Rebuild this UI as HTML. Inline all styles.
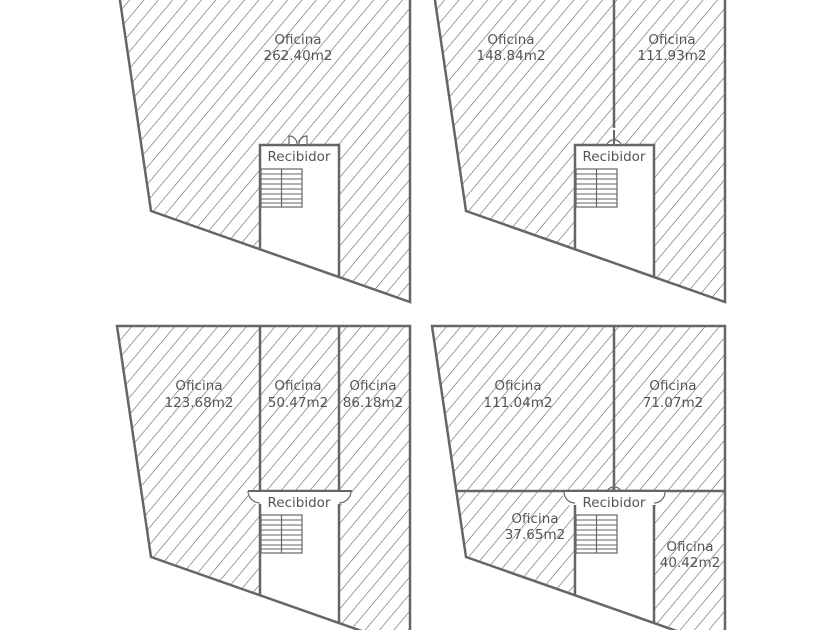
<!DOCTYPE html>
<html><head><meta charset="utf-8"><style>
html,body{margin:0;padding:0;background:#fff;width:840px;height:630px;overflow:hidden}
svg{display:block}
text{font-family:"DejaVu Sans","Liberation Sans",sans-serif;font-size:13.5px;fill:#555;text-anchor:middle}
</style></head><body>
<svg width="840" height="630" viewBox="0 0 840 630" xmlns="http://www.w3.org/2000/svg">
<defs>
<pattern id="h" patternUnits="userSpaceOnUse" width="11" height="40" patternTransform="rotate(40)">
<line x1="0" y1="0" x2="0" y2="40" stroke="#555" stroke-width="1.1"/>
</pattern>
<clipPath id="outer"><polygon points="117,-20 410,-20 410,302 151,211"/></clipPath>
<g id="base">
<polygon points="117,-20 410,-20 410,302 151,211" fill="url(#h)"/>
<g clip-path="url(#outer)"><rect x="260" y="145" width="79" height="200" fill="#fff"/>
<polyline points="260,260 260,145 339,145 339,290" fill="none" stroke="#666" stroke-width="2.5"/></g>
<polygon points="117,-20 410,-20 410,302 151,211" fill="none" stroke="#666" stroke-width="2.5"/>
<rect x="261" y="169" width="41" height="38" fill="#fff" stroke="#666" stroke-width="1.2"/>
<line x1="281.5" y1="169" x2="281.5" y2="207" stroke="#666" stroke-width="1.2"/>
<g stroke="#666" stroke-width="1">
<line x1="261" y1="174" x2="302" y2="174"/><line x1="261" y1="179" x2="302" y2="179"/><line x1="261" y1="184" x2="302" y2="184"/><line x1="261" y1="189" x2="302" y2="189"/><line x1="261" y1="194" x2="302" y2="194"/><line x1="261" y1="199" x2="302" y2="199"/><line x1="261" y1="203" x2="302" y2="203"/>
</g>
</g>
</defs>

<g>
<use href="#base"/>
<path d="M289,144 L289,136 A8,8 0 0 1 297,144 M307,144 L307,136 A8,8 0 0 0 299,144" fill="#fff" stroke="#666" stroke-width="1.2"/>
<text x="298" y="44">Oficina</text><text x="298" y="60">262.40m2</text>
<text x="299" y="161">Recibidor</text>
</g>

<g transform="translate(315,0)">
<use href="#base"/>
<line x1="299" y1="-20" x2="299" y2="128" stroke="#666" stroke-width="2.5"/>
<path d="M292,144 A8,8 0 0 1 306,144" fill="#fff" stroke="#666" stroke-width="1.2"/>
<line x1="299" y1="130" x2="299" y2="144" stroke="#666" stroke-width="2"/>
<text x="196" y="44">Oficina</text><text x="196" y="60">148.84m2</text>
<text x="357" y="44">Oficina</text><text x="357" y="60">111.93m2</text>
<text x="299" y="161">Recibidor</text>
</g>

<g transform="translate(0,346)">
<use href="#base"/>
<line x1="260" y1="-20" x2="260" y2="145" stroke="#666" stroke-width="2.5"/>
<line x1="339" y1="-20" x2="339" y2="145" stroke="#666" stroke-width="2.5"/>
<rect x="248" y="144" width="104" height="14" fill="#fff"/>
<path d="M248,145 A12,12 0 0 0 260,157 M351,145 A12,12 0 0 1 339,157" fill="none" stroke="#666" stroke-width="1.2"/>
<line x1="248" y1="145" x2="352" y2="145" stroke="#666" stroke-width="2"/>
<text x="199" y="44">Oficina</text><text x="199" y="61">123.68m2</text>
<text x="298" y="44">Oficina</text><text x="298" y="61">50.47m2</text>
<text x="373" y="44">Oficina</text><text x="373" y="61">86.18m2</text>
<text x="299" y="161">Recibidor</text>
</g>

<g transform="translate(315,346)">
<use href="#base"/>
<line x1="299" y1="-20" x2="299" y2="145" stroke="#666" stroke-width="2.5"/>
<line x1="140" y1="145" x2="410" y2="145" stroke="#666" stroke-width="2.5"/>
<rect x="248" y="146" width="104" height="13" fill="#fff"/>
<path d="M249,146 A11,11 0 0 0 260,157 M350,146 A11,11 0 0 1 339,157 M292,145 A8,8 0 0 1 306,145" fill="none" stroke="#666" stroke-width="1.2"/>
<text x="203" y="44">Oficina</text><text x="203" y="61">111.04m2</text>
<text x="358" y="44">Oficina</text><text x="358" y="61">71.07m2</text>
<text x="220" y="177">Oficina</text><text x="220" y="193">37.65m2</text>
<text x="375" y="205">Oficina</text><text x="375" y="221">40.42m2</text>
<text x="299" y="161">Recibidor</text>
</g>
</svg>
</body></html>
